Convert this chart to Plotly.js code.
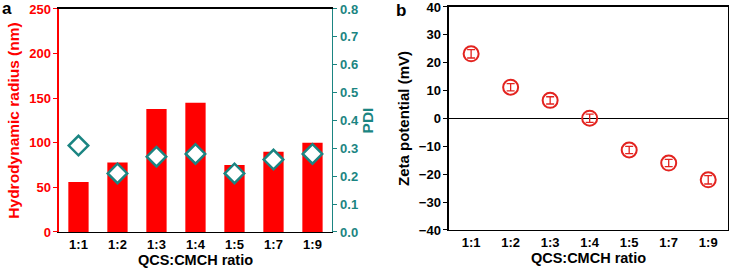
<!DOCTYPE html>
<html><head><meta charset="utf-8">
<script src="https://cdn.plot.ly/plotly-3.0.1.min.js"></script>
<style>html,body{margin:0;padding:0;background:#fff}#c{width:729px;height:274px}</style>
</head><body><div id="c"></div>
<script>
var categories = ['1:1','1:2','1:3','1:4','1:5','1:7','1:9'];
var radius = [56, 78, 138, 145, 75, 90, 100];
var pdi = [0.31, 0.21, 0.27, 0.28, 0.21, 0.26, 0.28];
var pdiErr = [0.012, 0.012, 0.012, 0, 0.012, 0.012, 0.012];
var zeta = [23.2, 11.2, 6.5, 0.1, -11.3, -16.0, -22.0];
var zetaErr = [1.5, 1.3, 1.3, 1.5, 1.3, 1.3, 1.5];

var RED = '#ff0000', TEAL = '#1b8582', ZRED = '#e3231f';
var F = 'Liberation Sans, Arial, sans-serif';

var traces = [
  {type:'bar', x:categories, y:radius, xaxis:'x', yaxis:'y', marker:{color:RED}, width:0.52, hoverinfo:'none'},
  {type:'scatter', mode:'markers', x:categories, y:pdi, xaxis:'x', yaxis:'y2',
   marker:{symbol:'diamond', size:15, color:'#ffffff', line:{color:TEAL, width:2.5}},
   error_y:{type:'data', array:pdiErr, visible:true, color:TEAL, thickness:1.3, width:4}},
  {type:'scatter', mode:'markers', x:categories, y:zeta, xaxis:'x2', yaxis:'y3',
   marker:{symbol:'circle', size:15, color:'rgba(255,255,255,0)', line:{color:ZRED, width:2}},
   error_y:{type:'data', array:zetaErr, visible:true, color:ZRED, thickness:1.3, width:4}}
];

var tickF = {family:F, size:13, color:'#000', weight:'bold'};
var xTitleF = {family:F, size:14.5, color:'#000', weight:'bold'};
var layout = {
  width:729, height:274, margin:{l:0,r:0,t:0,b:0}, showlegend:false,
  paper_bgcolor:'#fff', plot_bgcolor:'rgba(0,0,0,0)',
  font:{family:F},
  xaxis:{domain:[0.0809,0.4554], anchor:'y', range:[-0.5,6.5], type:'category', showgrid:false,
    tickfont:tickF, ticks:'', showline:true, linecolor:'#000', linewidth:1.5, mirror:true,
    title:{text:'QCS:CMCH ratio', font:xTitleF, standoff:2}},
  yaxis:{domain:[0.1533,0.9672], anchor:'x', range:[0,250], dtick:50, showgrid:false, zeroline:false,
    tickfont:{family:F,size:13,color:RED,weight:'bold'}, ticks:'outside', ticklen:4, tickcolor:RED, showline:true, linecolor:RED, linewidth:1.5,
    ticklabeloverflow:'allow',
    title:{text:'Hydrodynamic radius (nm)', font:{family:F,size:15.5,color:RED,weight:'bold'}, standoff:5}},
  yaxis2:{domain:[0.1533,0.9672], anchor:'x', overlaying:'y', side:'right', range:[0,0.8], dtick:0.1, tickformat:'.1f',
    showgrid:false, zeroline:false, ticklabeloverflow:'allow',
    tickfont:{family:F,size:13,color:TEAL,weight:'bold'}, ticks:'outside', ticklen:4, tickcolor:TEAL, showline:true, linecolor:TEAL, linewidth:1.5,
    title:{text:'PDI', font:{family:F,size:15.5,color:TEAL,weight:'bold'}, standoff:4}},
  xaxis2:{domain:[0.6159,0.9986], anchor:'y3', range:[-0.56,6.5], type:'category', showgrid:false,
    tickfont:tickF, ticks:'', showline:true, linecolor:'#000', linewidth:1.5, mirror:true,
    title:{text:'QCS:CMCH ratio', font:xTitleF, standoff:2}},
  yaxis3:{domain:[0.1606,0.9745], anchor:'x2', range:[-40,40], dtick:10, showgrid:false,
    zeroline:true, zerolinecolor:'#000', zerolinewidth:1.5, ticklabeloverflow:'allow',
    tickfont:tickF, ticks:'outside', ticklen:4, tickcolor:'#000', showline:true, linecolor:'#000', linewidth:1.5, mirror:true,
    title:{text:'Zeta potential (mV)', font:{family:F,size:15,color:'#000',weight:'bold'}, standoff:5}},
  annotations:[
    {text:'<b>a</b>', xref:'paper', yref:'paper', x:0.0, y:1.01, xanchor:'left', yanchor:'top', showarrow:false, font:{family:F,size:17,color:'#000'}},
    {text:'<b>b</b>', xref:'paper', yref:'paper', x:0.541, y:1.005, xanchor:'left', yanchor:'top', showarrow:false, font:{family:F,size:17,color:'#000'}}
  ]
};
Plotly.newPlot('c', traces, layout, {staticPlot:true});
</script></body></html>
